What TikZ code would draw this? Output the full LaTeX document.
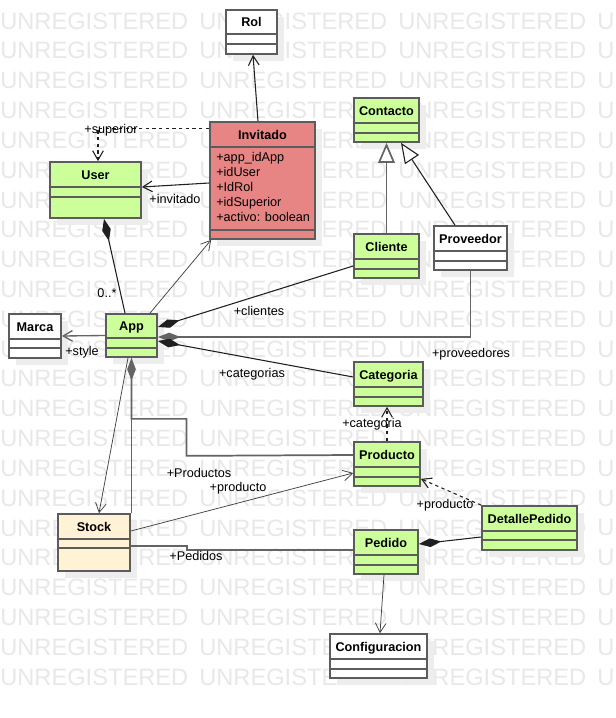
\documentclass[tikz,border=0pt]{standalone}
\usepackage{fontspec}
\setmainfont{Liberation Sans}
\usetikzlibrary{arrows.meta,fit,calc}
\definecolor{umlgreen}{HTML}{CCFF99}
\definecolor{umlred}{HTML}{E78484}
\definecolor{umlstock}{HTML}{FFF2D5}
\definecolor{umlborder}{HTML}{5C5C5C}
\definecolor{wmgray}{HTML}{E8E8E8}
\definecolor{shadowgray}{HTML}{EDEDED}
\definecolor{linegray}{HTML}{646464}
\tikzset{
 pxx/.style={xshift=#1*0.75pt},
 pxy/.style={yshift=-#1*0.75pt},
 wm/.style={font=\fontsize{17.75pt}{18pt}\selectfont, text=wmgray, inner sep=0pt, anchor=west},
 classbox/.style={draw=umlborder, line width=1.3pt, inner sep=0pt},
 classtitle/.style={font=\fontsize{9.5pt}{11pt}\selectfont\bfseries, inner sep=0pt, anchor=base},
 attr/.style={font=\fontsize{9.5pt}{11pt}\selectfont, inner sep=0pt, anchor=base west},
 lbl/.style={font=\fontsize{9.5pt}{11pt}\selectfont, inner sep=0pt, anchor=base},
 divider/.style={draw=umlborder, line width=1.3pt},
 assoc/.style={draw=black!88, line width=0.8pt},
 thinassoc/.style={draw=black!75, line width=0.55pt},
 ortho/.style={draw=linegray, line width=1.3pt},
 nav/.style={-{Straight Barb[length=7pt,width=8pt]}},
 compend/.style={-{Diamond[length=17pt,width=6.5pt]}},
 compstart/.style={{Diamond[length=17pt,width=6.5pt]}-},
 dashedline/.style={dash pattern=on 2.5pt off 2.5pt},
 gen/.style={-{Triangle[length=15pt,width=12.5pt,fill=white]}},
}
\newcommand\umlclass[9]{%
  \fill[shadowgray] ({#3+7},{#4+7}) rectangle ({#5+7},{#6+7});
  \node[classbox, fill=#2, fit={(#3,#4) (#5,#6)}] (#1) {};
  \draw[divider] (#3,#7) -- (#5,#7);
  \draw[divider] (#3,#8) -- (#5,#8);
  \node[classtitle] (#1-title) at ({(#3+#5)/2},{(#4+#7)/2+4.7}) {#9};
}
\begin{document}
\begin{tikzpicture}[x=0.75pt, y=-0.75pt]
\useasboundingbox (0,0) rectangle (616,718);
\fill[white] (0,0) rectangle (616,718);
% watermark
\foreach \k in {0,...,22}{
  \foreach \xx in {0,199,398}{
    \node[wm] (wm-\k-\xx) at (\xx,{21+29.82*\k}) {UNREGISTERED};
  }
  \node[wm] (wm-\k-end) at (597,{21+29.82*\k}) {U};
}
% classes
\umlclass{rol}{white}{226}{10}{277}{54}{34}{44}{Rol}
\umlclass{invitado}{umlred}{210}{122}{315}{239}{147}{230}{Invitado}
\umlclass{user}{umlgreen}{50}{162}{141}{218}{187}{197}{User}
\umlclass{contacto}{umlgreen}{354}{98}{419}{142}{123}{133}{Contacto}
\umlclass{cliente}{umlgreen}{354}{234}{419}{278}{259}{269}{Cliente}
\umlclass{proveedor}{white}{434}{226}{507}{270}{251}{261}{Proveedor}
\umlclass{marca}{white}{9}{314}{61}{358}{339}{348}{Marca}
\umlclass{app}{umlgreen}{106}{314}{157}{357}{338}{348}{App}
\umlclass{categoria}{umlgreen}{354}{362}{423}{406}{387}{397}{Categoria}
\umlclass{producto}{umlgreen}{354}{442}{420}{486}{467}{477}{Producto}
\umlclass{detalle}{umlgreen}{482}{506}{577}{550}{531}{540}{DetallePedido}
\umlclass{pedido}{umlgreen}{354}{530}{418}{574}{555}{565}{Pedido}
\umlclass{configuracion}{white}{330}{634}{427}{678}{659}{669}{Configuracion}
\umlclass{stock}{umlstock}{58}{514}{130}{571}{539}{548}{Stock}
% Invitado attributes
\node[attr] (a1) at (216,161.5) {+app\_idApp};
\node[attr] (a2) at (216,176.5) {+idUser};
\node[attr] (a3) at (216,191.5) {+IdRol};
\node[attr] (a4) at (216,206.5) {+idSuperior};
\node[attr] (a5) at (216,221.5) {+activo: boolean};
% connectors
\draw[assoc, nav] ([pxx=-4.5]invitado.north) -- ([pxx=1.5]rol.south);
\draw[assoc, nav, dashedline] ([pxy=7]invitado.north west) -| ([pxx=2.5]user.north);
\draw[assoc, nav] ([pxy=2.5]invitado.west) -- ([pxy=-3]user.east);
\draw[assoc, compend] ([pxx=-6.5]app.north) -- ([pxx=8.5]user.south);
\draw[thinassoc, nav] ([pxx=18.5]app.north) -- ([pxx=2]invitado.south west);
\draw[ortho, line width=1pt, nav] (app.west) -- (marca.east);
\draw[assoc, compend] ([pxy=10]cliente.west) -- ([pxy=-8.5]app.east);
\draw[ortho, compend] (proveedor.south) |- ([pxy=1.5]app.east);
\draw[assoc, compend] ([pxy=-7]categoria.west) -- ([pxy=5.5]app.east);
\draw[ortho] (app.south) -- (app.south |- stock.north east);
\draw[ortho, compstart] (app.south) -- ++(0,61) -| ++(55,37) -- ([pxy=-9]producto.west);
\draw[thinassoc, nav] ([pxx=-3.5]app.south) -- ([pxx=5]stock.north);
\draw[thinassoc, nav] ([pxy=-11.5]stock.east) -- ([pxy=9]producto.west);
\draw[ortho] ([pxy=3.5]stock.east) -- ++(56,0) -- ++(0,4) -- ([pxy=-2]pedido.west);
\draw[assoc, nav, dashedline] (producto.north) -- ([pxx=-1.5]categoria.south);
\draw[assoc, nav, dashedline] (detalle.north west) -- ([pxy=-8]producto.south east);
\draw[assoc, compend] ([pxy=9]detalle.west) -- ([pxy=-8]pedido.east);
\draw[thinassoc, nav] ([pxx=-2]pedido.south) -- ([pxx=1.5]configuracion.north);
\draw[ortho, gen] (cliente.north) -- (contacto.south);
\draw[assoc, gen] ([pxx=-15.5]proveedor.north) -- ([pxx=14.5]contacto.south);
% labels
\node[lbl] (l-superior) at (111,133.5) {+superior};
\node[lbl] (l-invitado) at (175,203.5) {+invitado};
\node[lbl] (l-mult) at (107,297.5) {0..*};
\node[lbl] (l-style) at (82,355.5) {+style};
\node[lbl] (l-clientes) at (259,315.5) {+clientes};
\node[lbl] (l-proveedores) at (471,357.5) {+proveedores};
\node[lbl] (l-categorias) at (252,377.5) {+categorias};
\node[lbl] (l-categoria) at (372,427.5) {+categoria};
\node[lbl] (l-productos) at (199,477.5) {+Productos};
\node[lbl] (l-producto1) at (238,491.5) {+producto};
\node[lbl] (l-pedidos) at (196,560.5) {+Pedidos};
\node[lbl] (l-producto2) at (445,508.5) {+producto};
\end{tikzpicture}
\end{document}
